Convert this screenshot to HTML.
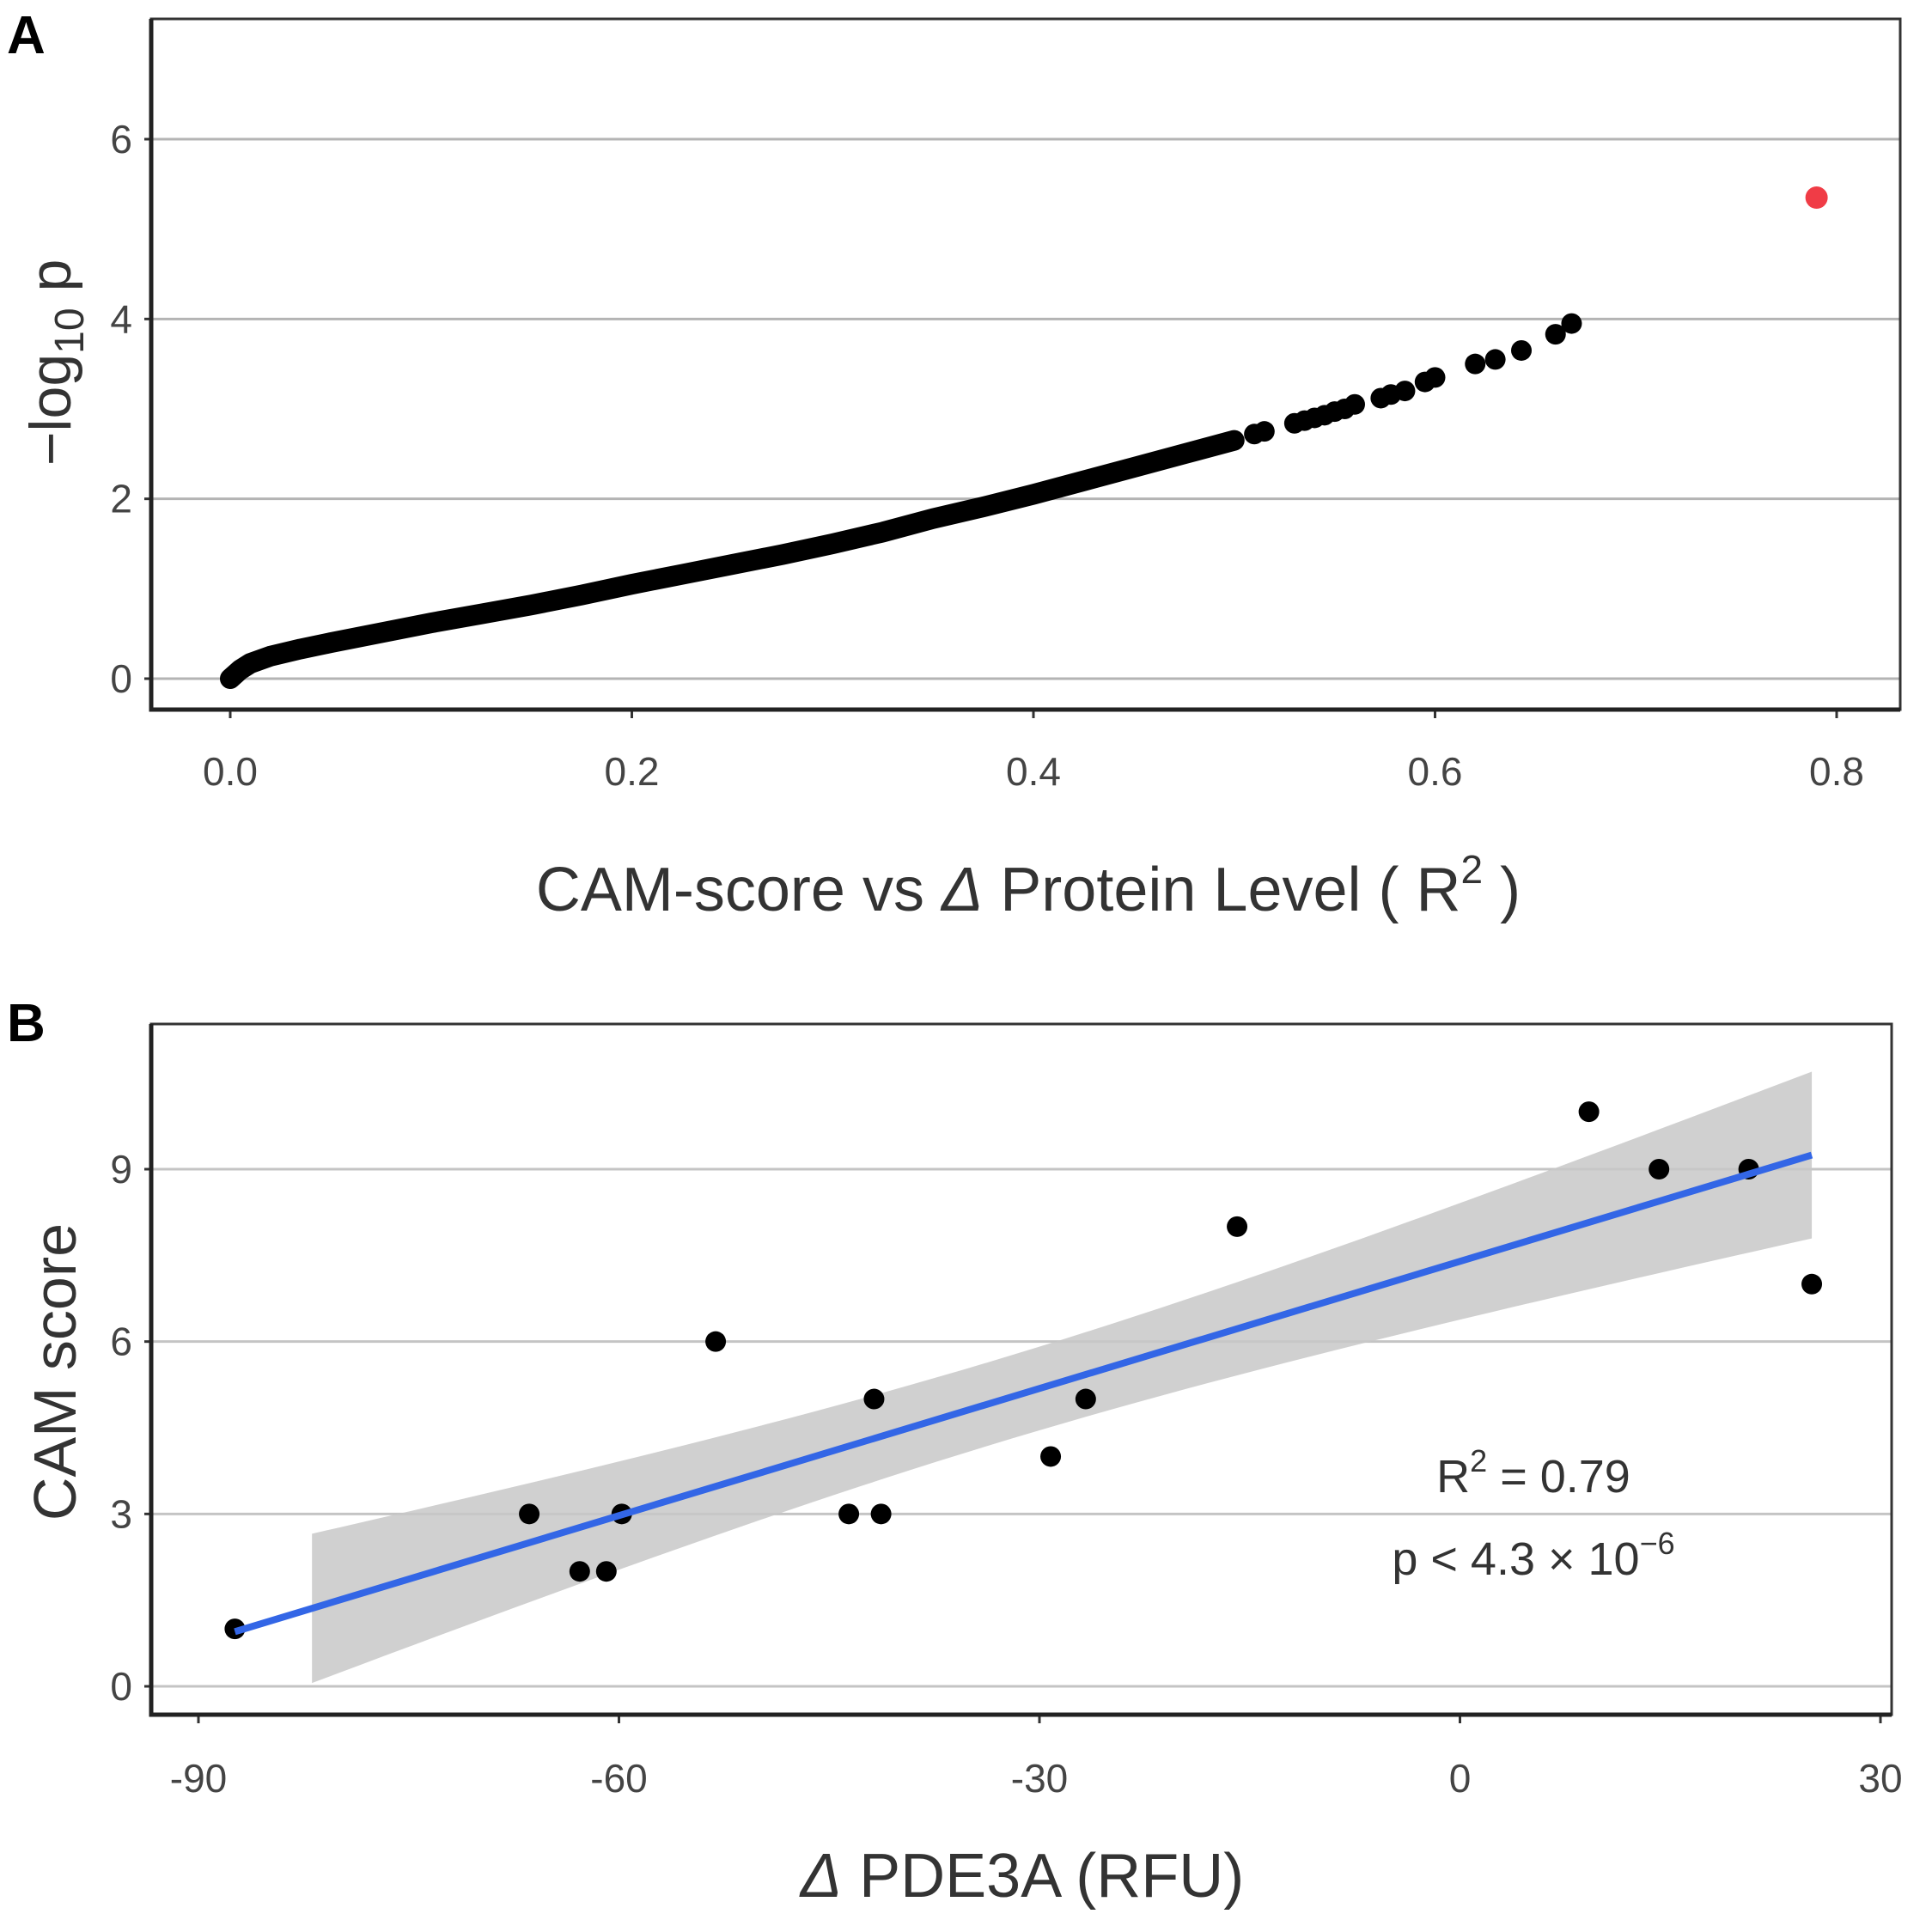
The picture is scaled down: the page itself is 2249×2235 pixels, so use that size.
<!DOCTYPE html>
<html><head><meta charset="utf-8"><style>
html,body{margin:0;padding:0;background:#fff;}
svg{display:block;font-family:"Liberation Sans",sans-serif;}
</style></head><body>
<svg id="fig" width="2249" height="2235" viewBox="0 0 2249 2235" xmlns="http://www.w3.org/2000/svg">
<rect x="0" y="0" width="2249" height="2235" fill="#fff"/>
<text x="8" y="62" font-size="62" font-weight="bold" fill="#000">A</text>
<text x="8" y="1212" font-size="62" font-weight="bold" fill="#000">B</text>
<g id="pa"></g>
<g id="pb"></g>
</svg>
<script>
// Panel A data
const aR2 = [0,0.005,0.01,0.02,0.035,0.05,0.075,0.1,0.125,0.15,0.175,0.2,0.225,0.25,0.275,0.3,0.325,0.35,0.375,0.4,0.425,0.45,0.475,0.5];
const aLogP = [0,0.1,0.17,0.25,0.33,0.4,0.51,0.62,0.72,0.82,0.93,1.05,1.16,1.27,1.38,1.5,1.63,1.78,1.91,2.05,2.2,2.35,2.5,2.65];
const aSparseR2 = [0.51,0.515,0.53,0.535,0.54,0.545,0.55,0.555,0.56,0.573,0.578,0.585,0.595,0.6,0.62,0.63,0.643,0.66,0.668];
const aSparseLogP = [2.72,2.75,2.84,2.87,2.9,2.93,2.97,3.0,3.05,3.12,3.16,3.2,3.3,3.35,3.5,3.55,3.65,3.83,3.95];
const aOutlier = [0.79,5.35];
const aXTicks = ["0.0","0.2","0.4","0.6","0.8"];
const aYTicks = ["0","2","4","6"];
// Panel B data
const bX = [-87.4,-66.4,-62.8,-60.9,-59.8,-53.1,-43.6,-41.8,-41.3,-29.2,-26.7,-15.9,9.2,14.2,20.6,25.1];
const bY = [1,3,2,2,3,6,3,5,3,4,5,8,10,9,9,7];
const bXTicks = ["-90","-60","-30","0","30"];
const bYTicks = ["0","3","6","9"];

const NS="http://www.w3.org/2000/svg";
function mk(parent,tag,attrs,text){const e=document.createElementNS(NS,tag);for(const k in attrs)e.setAttribute(k,attrs[k]);if(text!==undefined)e.textContent=text;parent.appendChild(e);return e;}

// ---- Panel A ----
const pa=document.getElementById('pa');
const ax=v=>268+(v-0)*(2138-268)/0.8;
const ay=v=>790-v*(790-162)/6;
const A={l:176,r:2212,t:22,b:826};
aYTicks.forEach(t=>{const v=+t;
 const g=mk(pa,'line',{x1:A.l,x2:A.r,y1:ay(v),y2:ay(v),stroke:'#b4b4b4','stroke-width':3});
 
 
 const tk=mk(pa,'line',{x1:A.l-8,x2:A.l,y1:ay(v),y2:ay(v),stroke:'#333','stroke-width':3});
 
 
 const lb=mk(pa,'text',{x:A.l-22,y:ay(v)+16,'font-size':46,fill:'#444','text-anchor':'end'},t);
 
 
});
aXTicks.forEach(t=>{const v=+t;
 const tk=mk(pa,'line',{x1:ax(v),x2:ax(v),y1:A.b,y2:A.b+10,stroke:'#333','stroke-width':3});
 
 
 const lb=mk(pa,'text',{x:ax(v),y:914,'font-size':46,fill:'#444','text-anchor':'middle'},t);
 
 
});
let pts=aR2.map((r,i)=>ax(r)+','+ay(aLogP[i])).join(' ');
const curve=mk(pa,'polyline',{points:pts,fill:'none',stroke:'#000','stroke-width':24,'stroke-linecap':'round','stroke-linejoin':'round'});


aSparseR2.forEach((r,i)=>{
 const c=mk(pa,'circle',{cx:ax(r),cy:ay(aSparseLogP[i]),r:12,fill:'#000'});
 
 
});
const oc=mk(pa,'circle',{cx:ax(aOutlier[0]),cy:ay(aOutlier[1]),r:13,fill:'#f03c46'});


const ab=mk(pa,'rect',{x:A.l,y:A.t,width:A.r-A.l,height:A.b-A.t,fill:'none',stroke:'#333','stroke-width':3});


const axl=mk(pa,'path',{d:`M${A.l},${A.t} V${A.b} H${A.r}`,fill:'none',stroke:'#222','stroke-width':5});


const at=mk(pa,'text',{x:1197,y:1060,'font-size':72,fill:'#333','text-anchor':'middle'});


at.innerHTML='CAM-score vs <tspan font-style="italic">Δ</tspan> Protein Level ( R<tspan font-size="46" dy="-32">2</tspan><tspan dy="32"> )</tspan>';
const ayt=mk(pa,'text',{x:0,y:0,'font-size':68,fill:'#333','text-anchor':'middle',transform:'translate(82,422) rotate(-90)'});


ayt.innerHTML='−log<tspan font-size="48" dy="15">10</tspan><tspan dy="-15"> p</tspan>';

// ---- Panel B ----
const pb=document.getElementById('pb');
const B={l:176,r:2202,t:1192,b:1996};
const bx=v=>231+(v+90)*(2189-231)/120;
const by=v=>1963-v*(1963-1361)/9;
bYTicks.forEach(t=>{const v=+t;
 const g=mk(pb,'line',{x1:B.l,x2:B.r,y1:by(v),y2:by(v),stroke:'#c4c4c4','stroke-width':3});
 
 
 const tk=mk(pb,'line',{x1:B.l-8,x2:B.l,y1:by(v),y2:by(v),stroke:'#333','stroke-width':3});
 
 
 const lb=mk(pb,'text',{x:B.l-22,y:by(v)+16,'font-size':46,fill:'#444','text-anchor':'end'},t);
 
 
});
bXTicks.forEach(t=>{const v=+t;
 const tk=mk(pb,'line',{x1:bx(v),x2:bx(v),y1:B.b,y2:B.b+10,stroke:'#333','stroke-width':3});
 
 
 const lb=mk(pb,'text',{x:bx(v),y:2086,'font-size':46,fill:'#444','text-anchor':'middle'},t);
 
 
});
// regression
const n=bX.length;
const mx=bX.reduce((a,b)=>a+b,0)/n, my=bY.reduce((a,b)=>a+b,0)/n;
let sxx=0,sxy=0;for(let i=0;i<n;i++){sxx+=(bX[i]-mx)**2;sxy+=(bX[i]-mx)*(bY[i]-my);}
const slope=sxy/sxx, icpt=my-slope*mx;
let sse=0;for(let i=0;i<n;i++){sse+=(bY[i]-(icpt+slope*bX[i]))**2;}
const sig=Math.sqrt(sse/(n-2)), tq=2.145;
const xmin=Math.min(...bX), xmax=Math.max(...bX);
const bandStart=xmin+5.5;
const up=[],lo=[];
for(let k=0;k<=60;k++){const x=bandStart+(xmax-bandStart)*k/60;const f=icpt+slope*x;const h=tq*sig*Math.sqrt(1/n+(x-mx)**2/sxx);
 up.push(bx(x)+','+by(f+h));lo.unshift(bx(x)+','+by(f-h));}
const band=mk(pb,'polygon',{points:up.concat(lo).join(' '),fill:'#c8c8c8','fill-opacity':0.85});


bX.forEach((x,i)=>{
 const c=mk(pb,'circle',{cx:bx(x),cy:by(bY[i]),r:12,fill:'#000'});
 
 
});
const rl=mk(pb,'line',{x1:bx(xmin),y1:by(icpt+slope*xmin),x2:bx(xmax),y2:by(icpt+slope*xmax),stroke:'#3366e6','stroke-width':8});


const bb=mk(pb,'rect',{x:B.l,y:B.t,width:B.r-B.l,height:B.b-B.t,fill:'none',stroke:'#333','stroke-width':3});


const bxl=mk(pb,'path',{d:`M${B.l},${B.t} V${B.b} H${B.r}`,fill:'none',stroke:'#222','stroke-width':5});


const r2=mk(pb,'text',{x:1785,y:1737,'font-size':54,fill:'#333','text-anchor':'middle'});


r2.innerHTML='R<tspan font-size="36" dy="-24">2</tspan><tspan dy="24"> = 0.79</tspan>';
const pv=mk(pb,'text',{x:1785,y:1833,'font-size':54,fill:'#333','text-anchor':'middle'});


pv.innerHTML='p &lt; 4.3 × 10<tspan font-size="36" dy="-24">−6</tspan>';
const bt=mk(pb,'text',{x:1190,y:2208,'font-size':72,fill:'#333','text-anchor':'middle'});


bt.innerHTML='<tspan font-style="italic">Δ</tspan> PDE3A (RFU)';
const byt=mk(pb,'text',{x:0,y:0,'font-size':70,fill:'#333','text-anchor':'middle',transform:'translate(88,1597) rotate(-90)'},'CAM score');


</script>
</body></html>
